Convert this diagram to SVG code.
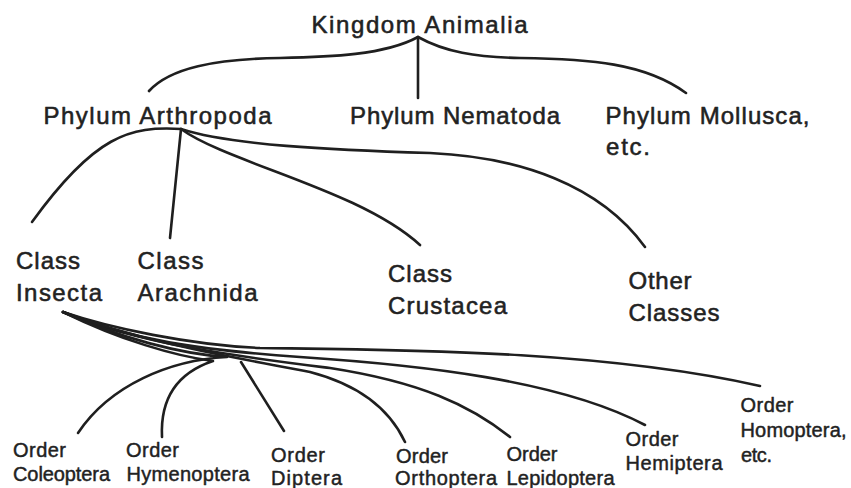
<svg xmlns="http://www.w3.org/2000/svg" width="851" height="488" viewBox="0 0 851 488">
<style>
.bg{fill:#ffffff}
.c path{fill:none;stroke:#1f1f1f;stroke-width:2.6;stroke-linecap:round;stroke-linejoin:round}
text{font-family:"Liberation Sans","Noto Sans",Arial,sans-serif;fill:#222222;stroke:#222222;stroke-linejoin:round}
.big{font-size:24px;stroke-width:0.55}
.sm{font-size:20px;stroke-width:0.45}
</style>
<rect class="bg" x="0" y="0" width="851" height="488"/>
<g id="connectors" class="c">
<path d="M418,37 C385,55 330,57 280,58 C215,59 170,68 149,91"/>
<path d="M418,37 L418,98"/>
<path d="M418,37 C445,52 475,57 520,58 C590,59 645,63 686,93"/>
<path d="M181,129 C130,126 95,135 32,222"/>
<path d="M181,129 L170,238"/>
<path d="M181,129 C228,163 360,190 420,245"/>
<path d="M181,129 C230,145 330,150 430,153 C520,157 600,185 645,247"/>
<path d="M63,312 C110,328 190,345 260,348 C400,350 600,350 760,386"/>
<path d="M63,312 C130,340 200,350 300,357 C420,365 560,380 645,425"/>
<path d="M63,312 C140,345 250,358 330,368 C420,382 470,405 510,437"/>
<path d="M63,312 C150,345 250,360 310,372 C360,385 390,410 405,442"/>
<path d="M63,312 C120,338 180,354 227,357 C170,360 110,385 78,433"/>
<path d="M63,312 C120,340 175,356 213,361 C180,372 160,395 162,437"/>
<path d="M241,362 L284,431"/>
</g>
<g id="kingdom-animalia"><text class="big" x="311.5" y="33" textLength="216" lengthAdjust="spacing">Kingdom Animalia</text></g>
<g id="phylum-arthropoda"><text class="big" x="43.5" y="124" textLength="228" lengthAdjust="spacing">Phylum Arthropoda</text></g>
<g id="phylum-nematoda"><text class="big" x="350" y="124" textLength="210" lengthAdjust="spacing">Phylum Nematoda</text></g>
<g id="phylum-mollusca"><text class="big" x="605.5" y="124" textLength="204" lengthAdjust="spacing">Phylum Mollusca,</text><text class="big" x="606" y="155" textLength="44" lengthAdjust="spacing">etc.</text></g>
<g id="class-insecta"><text class="big" x="16" y="269" textLength="64" lengthAdjust="spacing">Class</text><text class="big" x="16" y="301" textLength="86" lengthAdjust="spacing">Insecta</text></g>
<g id="class-arachnida"><text class="big" x="137.5" y="269" textLength="66" lengthAdjust="spacing">Class</text><text class="big" x="137.5" y="301" textLength="120" lengthAdjust="spacing">Arachnida</text></g>
<g id="class-crustacea"><text class="big" x="388" y="282" textLength="64" lengthAdjust="spacing">Class</text><text class="big" x="388" y="314" textLength="119" lengthAdjust="spacing">Crustacea</text></g>
<g id="other-classes"><text class="big" x="628.5" y="289" textLength="63" lengthAdjust="spacing">Other</text><text class="big" x="628.5" y="321" textLength="91" lengthAdjust="spacing">Classes</text></g>
<g id="order-coleoptera"><text class="sm" x="13" y="457" textLength="53" lengthAdjust="spacing">Order</text><text class="sm" x="13" y="480.5" textLength="97" lengthAdjust="spacing">Coleoptera</text></g>
<g id="order-hymenoptera"><text class="sm" x="126" y="457" textLength="53" lengthAdjust="spacing">Order</text><text class="sm" x="126.5" y="480.5" textLength="123" lengthAdjust="spacing">Hymenoptera</text></g>
<g id="order-diptera"><text class="sm" x="271" y="461.5" textLength="54" lengthAdjust="spacing">Order</text><text class="sm" x="271" y="484.5" textLength="71" lengthAdjust="spacing">Diptera</text></g>
<g id="order-orthoptera"><text class="sm" x="396" y="462.5" textLength="52" lengthAdjust="spacing">Order</text><text class="sm" x="395" y="484.5" textLength="102" lengthAdjust="spacing">Orthoptera</text></g>
<g id="order-lepidoptera"><text class="sm" x="506.5" y="461" textLength="51" lengthAdjust="spacing">Order</text><text class="sm" x="506.5" y="484.5" textLength="108" lengthAdjust="spacing">Lepidoptera</text></g>
<g id="order-hemiptera"><text class="sm" x="625.5" y="446" textLength="53" lengthAdjust="spacing">Order</text><text class="sm" x="625.5" y="470" textLength="97" lengthAdjust="spacing">Hemiptera</text></g>
<g id="order-homoptera"><text class="sm" x="740.5" y="412" textLength="53" lengthAdjust="spacing">Order</text><text class="sm" x="740.5" y="437" textLength="106" lengthAdjust="spacing">Homoptera,</text><text class="sm" x="741" y="462" textLength="31" lengthAdjust="spacing">etc.</text></g>
</svg>
